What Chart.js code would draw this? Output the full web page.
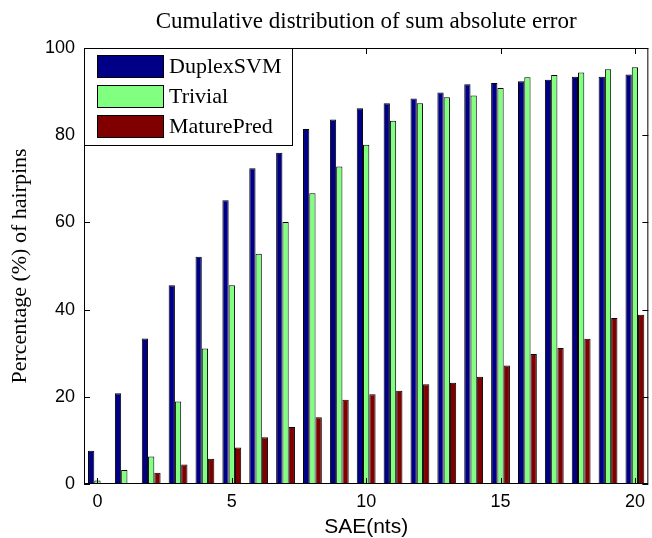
<!DOCTYPE html>
<html>
<head>
<meta charset="utf-8">
<script src="https://cdn.jsdelivr.net/npm/chart.js@4.4.1/dist/chart.umd.min.js"></script>
<style>
    html, body { margin: 0; padding: 0; background: #fff; }
    #wrap { width: 652px; height: 538px; }
</style>
</head>
<body>
<div id="wrap"><canvas id="saeChart"></canvas></div>
<script>
// SAE values 0..20 (nts)
const saeLabels = ['0', '1', '2', '3', '4', '5', '6', '7', '8', '9', '10',
    '11', '12', '13', '14', '15', '16', '17', '18', '19', '20'];

const duplexSVM = [7.6, 20.8, 33.4, 45.6, 52.1, 65.1, 72.4, 76.0, 81.4, 83.6, 86.2,
    87.3, 88.4, 89.8, 91.7, 92.0, 92.4, 92.7, 93.4, 93.4, 93.9];
const trivial = [0.8, 3.2, 6.3, 18.9, 31.1, 45.6, 52.8, 60.1, 66.7, 72.8, 77.8,
    83.3, 87.3, 88.7, 89.1, 90.8, 93.3, 93.8, 94.4, 95.1, 95.6];
const maturePred = [0, 0, 2.6, 4.5, 5.8, 8.4, 10.7, 13.1, 15.3, 19.3, 20.6,
    21.4, 22.9, 23.2, 24.6, 27.2, 29.8, 31.2, 33.3, 38.1, 38.8];

const yTicks = [0, 20, 40, 60, 80, 100];
const xTickShown = ['0', '5', '10', '15', '20'];

// matlab style frame with inward ticks
const inwardTicks = {
    id: 'inwardTicks',
    afterDatasetsDraw(chart) {
        const { ctx, chartArea: a, scales: { x, y } } = chart;
        const len = 6;
        ctx.save();
        ctx.strokeStyle = '#000';
        ctx.lineWidth = 1;
        ctx.beginPath();
        yTicks.forEach(v => {
            const py = Math.round(y.getPixelForValue(v)) + 0.5;
            ctx.moveTo(a.left, py); ctx.lineTo(a.left + len, py);
            ctx.moveTo(a.right, py); ctx.lineTo(a.right - len, py);
        });
        xTickShown.forEach(l => {
            const px = Math.round(x.getPixelForValue(saeLabels.indexOf(l))) + 0.5;
            ctx.moveTo(px, a.top); ctx.lineTo(px, a.top + len);
            ctx.moveTo(px, a.bottom); ctx.lineTo(px, a.bottom - len);
        });
        ctx.stroke();
        ctx.strokeRect(a.left + 0.5, a.top + 0.5, a.right - a.left - 1, a.bottom - a.top - 1);
        ctx.restore();
    }
};

// legend box in the upper left corner of the axes
const boxLegend = {
    id: 'boxLegend',
    afterDatasetsDraw(chart) {
        const { ctx, chartArea: a } = chart;
        ctx.save();
        ctx.fillStyle = '#fff';
        ctx.fillRect(a.left, a.top, 208, 97);
        ctx.strokeStyle = '#000';
        ctx.lineWidth = 1;
        ctx.strokeRect(a.left + 0.5, a.top + 0.5, 208, 97);
        ctx.font = '22px "Liberation Serif"';
        ctx.textBaseline = 'middle';
        chart.data.datasets.forEach((ds, i) => {
            const top = a.top + 7 + i * 30;
            ctx.fillStyle = ds.backgroundColor;
            ctx.fillRect(a.left + 13, top, 66, 22);
            ctx.strokeRect(a.left + 13.5, top + 0.5, 66, 22);
            ctx.fillStyle = '#000';
            ctx.fillText(ds.label, a.left + 85, top + 12);
        });
        ctx.restore();
    }
};

document.addEventListener('DOMContentLoaded', function () {
    const ctx = document.getElementById('saeChart');

    const barStyle = {
        borderColor: '#000',
        borderWidth: 1,
        categoryPercentage: 0.7,
        barPercentage: 1.0
    };

    new Chart(ctx, {
        type: 'bar',
        data: {
            labels: saeLabels,
            datasets: [
                { label: 'DuplexSVM', data: duplexSVM, backgroundColor: '#000086', ...barStyle },
                { label: 'Trivial', data: trivial, backgroundColor: '#80ff80', ...barStyle },
                { label: 'MaturePred', data: maturePred, backgroundColor: '#800000', ...barStyle }
            ]
        },
        options: {
            responsive: true,
            maintainAspectRatio: false,
            animation: false,
            layout: { padding: { left: 0, right: 0, top: 0, bottom: 0 } },
            plugins: {
                legend: { display: false },
                tooltip: { enabled: false },
                title: {
                    display: true,
                    fullSize: false,
                    text: 'Cumulative distribution of sum absolute error',
                    color: '#000',
                    font: { family: '"Liberation Serif"', size: 23, weight: 'normal' },
                    padding: { top: 8, bottom: 12.4 }
                }
            },
            scales: {
                x: {
                    grid: { display: false, drawTicks: false },
                    border: { display: false },
                    ticks: {
                        autoSkip: false,
                        maxRotation: 0,
                        color: '#000',
                        padding: 7,
                        font: { family: '"Liberation Sans"', size: 18 },
                        callback: function (val, idx) {
                            return xTickShown.includes(saeLabels[idx]) ? saeLabels[idx] : '';
                        }
                    },
                    title: {
                        display: true,
                        text: 'SAE(nts)',
                        color: '#000',
                        font: { family: '"Liberation Sans"', size: 21 },
                        padding: { top: 0, bottom: -2 }
                    },
                    afterFit: (scale) => { scale.height = 54; }
                },
                y: {
                    min: 0,
                    max: 100,
                    grid: { display: false, drawTicks: false },
                    border: { display: false },
                    ticks: {
                        stepSize: 20,
                        color: '#000',
                        padding: 9,
                        font: { family: '"Liberation Sans"', size: 18 }
                    },
                    title: {
                        display: true,
                        text: 'Percentage (%) of hairpins',
                        color: '#000',
                        font: { family: '"Liberation Serif"', size: 22 },
                        padding: { top: 7, bottom: 0 }
                    },
                    afterFit: (scale) => { scale.width = 84; }
                }
            }
        },
        plugins: [inwardTicks, boxLegend]
    });
});
</script>
</body>
</html>
